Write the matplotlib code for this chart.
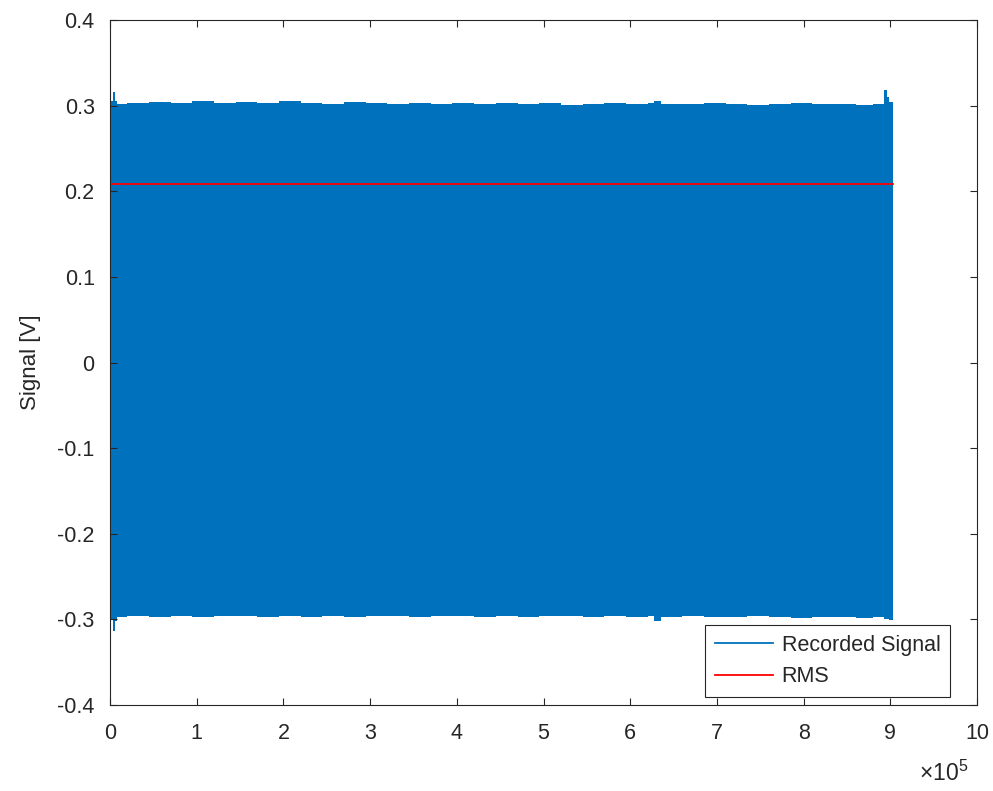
import numpy as np
import matplotlib
matplotlib.use("Agg")
import matplotlib.pyplot as plt
from matplotlib.lines import Line2D

plt.rcParams["font.family"] = ["Liberation Sans", "DejaVu Sans"]
plt.rcParams["mathtext.fontset"] = "custom"
plt.rcParams["mathtext.rm"] = "Liberation Sans"
plt.rcParams["mathtext.it"] = "Liberation Sans"

# envelope of the recorded signal (sample index, upper / lower peak in V)
sample_idx = [1000, 3000, 5500, 8000, 20000, 45000, 70000, 95000, 120000, 145000,
              170000, 195000, 220000, 245000, 270000, 295000, 320000, 345000, 370000,
              395000, 420000, 445000, 470000, 495000, 520000, 545000, 570000, 595000,
              620000, 627000, 635000, 660000, 685000, 710000, 735000, 760000, 785000,
              810000, 835000, 860000, 880000, 893000, 896000, 899000, 903000]
upper_peak = [0.306, 0.316, 0.305, 0.302, 0.303, 0.304, 0.303, 0.305, 0.303, 0.304,
              0.303, 0.305, 0.303, 0.302, 0.304, 0.303, 0.302, 0.303, 0.302,
              0.303, 0.302, 0.303, 0.302, 0.303, 0.301, 0.302, 0.303, 0.302,
              0.303, 0.306, 0.302, 0.302, 0.303, 0.302, 0.301, 0.302, 0.303,
              0.302, 0.302, 0.301, 0.302, 0.318, 0.310, 0.304, 0.302]
lower_peak = [-0.300, -0.313, -0.302, -0.297, -0.296, -0.297, -0.296, -0.297, -0.296, -0.296,
              -0.297, -0.296, -0.297, -0.296, -0.297, -0.296, -0.296, -0.297, -0.296,
              -0.296, -0.297, -0.296, -0.297, -0.296, -0.296, -0.297, -0.296, -0.297,
              -0.296, -0.302, -0.297, -0.296, -0.297, -0.297, -0.296, -0.297, -0.298,
              -0.297, -0.297, -0.298, -0.297, -0.299, -0.300, -0.301, -0.300]
rms_value = 0.209

x_ticks = [0, 1e5, 2e5, 3e5, 4e5, 5e5, 6e5, 7e5, 8e5, 9e5, 10e5]
x_ticklabels = ["0", "1", "2", "3", "4", "5", "6", "7", "8", "9", "10"]
y_ticks = [-0.4, -0.3, -0.2, -0.1, 0, 0.1, 0.2, 0.3, 0.4]
y_ticklabels = ["-0.4", "-0.3", "-0.2", "-0.1", "0", "0.1", "0.2", "0.3", "0.4"]

BLUE = "#0072BD"
RED = "#FF0000"
TXT = "#262626"
FS = 15.5

fig = plt.figure(figsize=(9.93, 7.91), dpi=100)
ax = fig.add_axes([0.1108, 0.1087, 0.8731, 0.8660])

ax.fill_between(sample_idx, lower_peak, upper_peak, step="post",
                color=BLUE, linewidth=0)
ax.plot([sample_idx[0], sample_idx[-1]], [rms_value, rms_value], color=RED, lw=1.3)

ax.set_xlim(0, 1e6)
ax.set_ylim(-0.4, 0.4)
ax.set_xticks(x_ticks)
ax.set_xticklabels(x_ticklabels)
ax.set_yticks(y_ticks)
ax.set_yticklabels(y_ticklabels)
ax.tick_params(direction="in", top=True, right=True, length=5, width=0.8,
               color=TXT, labelcolor=TXT, labelsize=FS)
ax.tick_params(axis="y", pad=11)
ax.tick_params(axis="x", pad=13)
for sp in ax.spines.values():
    sp.set_color(TXT)
    sp.set_linewidth(0.8)

ax.set_ylabel("Signal [V]", fontsize=FS + 0.5, color=TXT, labelpad=12)

ax.text(0.99, -0.1, r"$\times10^{5}$", transform=ax.transAxes,
        ha="right", va="center", fontsize=FS + 1, color=TXT)

handles = [Line2D([], [], color=BLUE, lw=1.3), Line2D([], [], color=RED, lw=1.3)]
leg = ax.legend(handles, ["Recorded Signal", "RMS"], loc="lower right",
                bbox_to_anchor=(0.969, 0.0117), fontsize=FS, fancybox=False,
                framealpha=1, edgecolor=TXT, handlelength=2.7, borderpad=0.45,
                labelspacing=0.5, handletextpad=0.4, borderaxespad=0)
leg.get_frame().set_linewidth(0.8)
for t in leg.get_texts():
    t.set_color(TXT)

fig.savefig("out.png", dpi=100)
